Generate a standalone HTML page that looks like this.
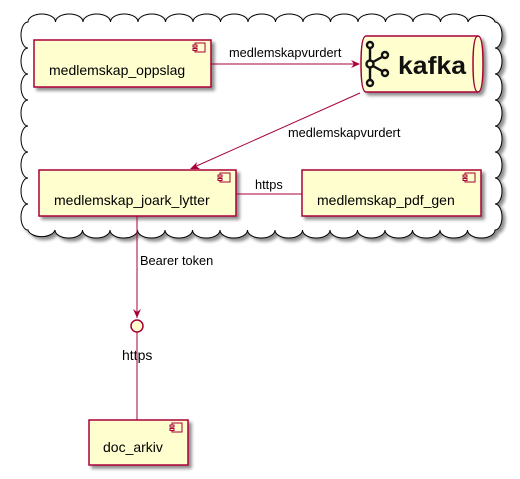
<!DOCTYPE html>
<html><head><meta charset="utf-8"><style>
body{margin:0;background:#fff;}
svg{display:block;font-family:"Liberation Sans",sans-serif;}
</style></head><body>
<svg width="520" height="479" viewBox="0 0 520 479" xmlns="http://www.w3.org/2000/svg">
<defs>
<filter id="sh" x="-10%" y="-10%" width="130%" height="130%"><feGaussianBlur in="SourceAlpha" stdDeviation="1.5"/><feOffset dx="3" dy="3"/><feComponentTransfer><feFuncA type="linear" slope="0.45"/></feComponentTransfer><feMerge><feMergeNode/><feMergeNode in="SourceGraphic"/></feMerge></filter>
<g id="comp"><rect x="-12" y="0" width="10" height="9" fill="#FEFECE" stroke="#A80036" stroke-width="1"/><rect x="-14" y="2" width="4" height="2" fill="#FEFECE" stroke="#A80036" stroke-width="1"/><rect x="-14" y="5.5" width="4" height="2" fill="#FEFECE" stroke="#A80036" stroke-width="1"/></g>
</defs>
<path filter="url(#sh)" fill="#fff" stroke="#000" stroke-width="1"
d="M28,22
a13.7,8 0 0,1 27.5,0 a13.7,8 0 0,1 27.5,0 a13.7,8 0 0,1 27.5,0 a13.7,8 0 0,1 27.5,0 a13.7,8 0 0,1 27.5,0 a13.7,8 0 0,1 27.5,0 a13.7,8 0 0,1 27.5,0 a13.7,8 0 0,1 27.5,0 a13.7,8 0 0,1 27.5,0 a13.7,8 0 0,1 27.5,0 a13.7,8 0 0,1 27.5,0 a13.7,8 0 0,1 27.5,0 a13.7,8 0 0,1 27.5,0 a13.7,8 0 0,1 27.5,0 a13.7,8 0 0,1 27.5,0 a13.7,8 0 0,1 27.5,0 a13.7,8 0 0,1 27,0
a7,13 0 0,1 0,26 a7,13 0 0,1 0,26 a7,13 0 0,1 0,26 a7,13 0 0,1 0,26 a7,13 0 0,1 0,26 a7,13 0 0,1 0,26 a7,13 0 0,1 0,26 a7,13 0 0,1 0,26
a13.7,8 0 0,1 -27.5,0 a13.7,8 0 0,1 -27.5,0 a13.7,8 0 0,1 -27.5,0 a13.7,8 0 0,1 -27.5,0 a13.7,8 0 0,1 -27.5,0 a13.7,8 0 0,1 -27.5,0 a13.7,8 0 0,1 -27.5,0 a13.7,8 0 0,1 -27.5,0 a13.7,8 0 0,1 -27.5,0 a13.7,8 0 0,1 -27.5,0 a13.7,8 0 0,1 -27.5,0 a13.7,8 0 0,1 -27.5,0 a13.7,8 0 0,1 -27.5,0 a13.7,8 0 0,1 -27.5,0 a13.7,8 0 0,1 -27.5,0 a13.7,8 0 0,1 -27.5,0 a13.7,8 0 0,1 -27,0
a7,13 0 0,1 0,-26 a7,13 0 0,1 0,-26 a7,13 0 0,1 0,-26 a7,13 0 0,1 0,-26 a7,13 0 0,1 0,-26 a7,13 0 0,1 0,-26 a7,13 0 0,1 0,-26 a7,13 0 0,1 0,-26 Z"/>

<g stroke="#A80036" stroke-width="1.5" fill="#FEFECE">
<rect x="34" y="40" width="177" height="47" filter="url(#sh)"/>
<rect x="39" y="170" width="197" height="46" filter="url(#sh)"/>
<rect x="302" y="170" width="179" height="46" filter="url(#sh)"/>
<rect x="89" y="420" width="99" height="45" filter="url(#sh)"/>
<path d="M366,36 L478,36 Q483,36 483,64 Q483,92 478,92 L366,92 Q361,92 361,64 Q361,36 366,36 Z" filter="url(#sh)"/>
<path d="M478,36 Q473,36 473,64 Q473,92 478,92" fill="none"/>
</g>
<use href="#comp" x="207" y="43"/>
<use href="#comp" x="232" y="173"/>
<use href="#comp" x="477" y="173"/>
<use href="#comp" x="184" y="423"/>

<g fill="#000" font-size="14">
<text x="49" y="75">medlemskap_oppslag</text>
<text x="54" y="205">medlemskap_joark_lytter</text>
<text x="317" y="205">medlemskap_pdf_gen</text>
<text x="103" y="452">doc_arkiv</text>
</g>
<g font-size="12.8" fill="#000">
<text x="229" y="57">medlemskapvurdert</text>
<text x="288" y="137">medlemskapvurdert</text>
<text x="255" y="189">https</text>
<text x="140" y="265">Bearer token</text>
<text x="122" y="360" font-size="14">https</text>
</g>
<!-- kafka logo -->
<g stroke="#111" stroke-width="2.4" fill="none">
<circle cx="370" cy="45" r="3"/><circle cx="370" cy="64" r="3.5"/><circle cx="370" cy="83" r="3"/>
<circle cx="385" cy="55" r="3"/><circle cx="385" cy="73" r="3"/>
<path d="M370,48 V60 M370,68 V80 M373,62 L382,57 M373,66 L382,71"/>
</g>
<text x="398" y="74" font-size="25" font-weight="bold" fill="#111" textLength="68" lengthAdjust="spacingAndGlyphs">kafka</text>

<g stroke="#A80036" stroke-width="1" fill="none">
<line x1="211" y1="64" x2="358" y2="64"/>
<line x1="360" y1="93" x2="192" y2="168"/>
<line x1="236" y1="194" x2="302" y2="194"/>
<line x1="137" y1="216" x2="137" y2="318"/>
<line x1="137" y1="332" x2="137" y2="420"/>
</g>
<g fill="#A80036">
<path d="M360,64 L351,60 L354,64 L351,68 Z"/>
<path d="M190,169 L197,162 L196,166 L200,169 Z"/>
<path d="M137,318 L133,309 L137,312 L141,309 Z"/>
</g>
<circle cx="137" cy="326" r="6" fill="#FEFECE" stroke="#A80036" stroke-width="1.5"/>
</svg>
</body></html>
